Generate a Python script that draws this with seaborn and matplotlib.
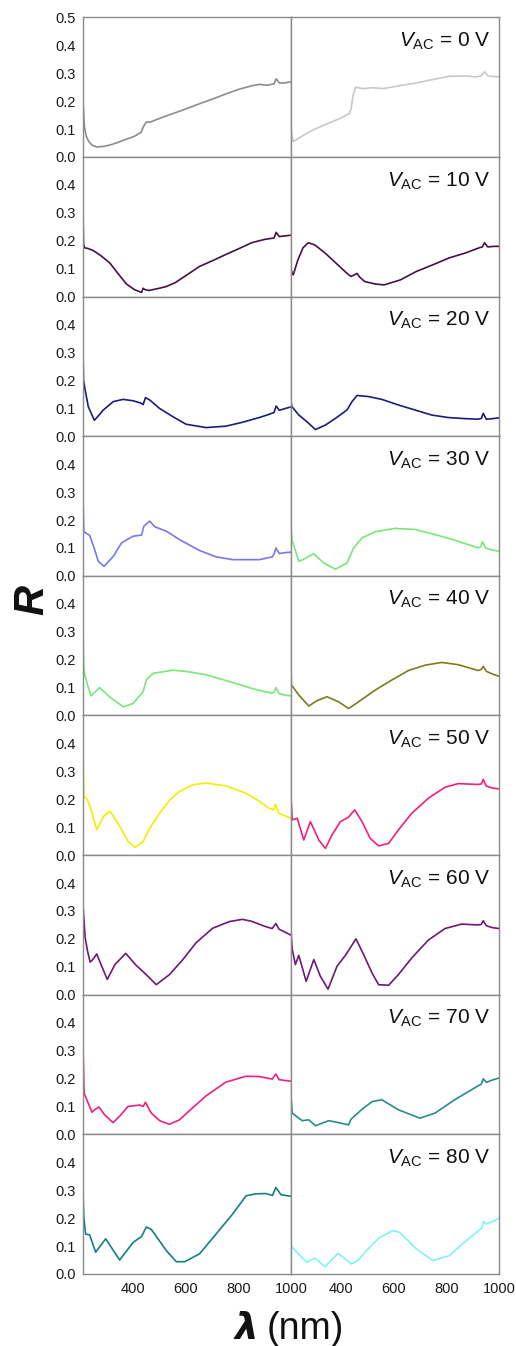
import matplotlib
matplotlib.use("Agg")
import matplotlib.pyplot as plt
import pandas as pd
import seaborn as sns

sns.set_theme(style="white")
plt.rcParams["font.family"] = ["Liberation Sans", "DejaVu Sans"]
plt.rcParams["mathtext.fontset"] = "custom"
plt.rcParams["mathtext.rm"] = "Liberation Sans"
plt.rcParams["mathtext.it"] = "Liberation Sans:italic"

voltages = [0, 10, 20, 30, 40, 50, 60, 70, 80]

# Reflectance spectra, two wavelength segments per voltage (left / right panel)
nm_0V_left = [210, 215, 222, 232, 245, 262, 290, 320, 350, 375, 405, 430, 440, 450, 465, 500, 550, 600, 650, 700, 750, 800, 850, 880, 910, 935, 943, 955, 975, 1000]
R_0V_left = [0.20, 0.11, 0.075, 0.055, 0.042, 0.036, 0.038, 0.045, 0.055, 0.064, 0.074, 0.088, 0.11, 0.125, 0.125, 0.138, 0.155, 0.172, 0.19, 0.207, 0.225, 0.242, 0.255, 0.26, 0.257, 0.262, 0.28, 0.265, 0.265, 0.27]
nm_0V_right = [210, 214, 218, 230, 260, 300, 350, 400, 430, 437, 445, 455, 480, 520, 560, 620, 685, 750, 811, 870, 912, 930, 944, 958, 980, 1000]
R_0V_right = [0.10, 0.07, 0.055, 0.062, 0.08, 0.10, 0.12, 0.14, 0.155, 0.17, 0.22, 0.25, 0.245, 0.248, 0.245, 0.255, 0.265, 0.278, 0.289, 0.29, 0.287, 0.29, 0.305, 0.29, 0.288, 0.287]

nm_10V_left = [210, 212, 216, 230, 249, 280, 312, 345, 375, 405, 432, 438, 445, 460, 500, 526, 560, 600, 652, 700, 750, 800, 850, 900, 935, 943, 955, 1000]
R_10V_left = [0.30, 0.19, 0.175, 0.172, 0.165, 0.145, 0.12, 0.08, 0.045, 0.025, 0.015, 0.03, 0.025, 0.022, 0.03, 0.036, 0.05, 0.075, 0.108, 0.128, 0.15, 0.171, 0.193, 0.205, 0.21, 0.23, 0.215, 0.22]
nm_10V_right = [210, 213, 218, 235, 255, 275, 300, 340, 380, 420, 437, 450, 460, 470, 489, 530, 563, 625, 685, 748, 811, 874, 924, 936, 944, 956, 980, 1000]
R_10V_right = [0.10, 0.085, 0.078, 0.13, 0.175, 0.193, 0.185, 0.155, 0.12, 0.085, 0.072, 0.078, 0.083, 0.07, 0.054, 0.045, 0.042, 0.06, 0.09, 0.114, 0.139, 0.157, 0.175, 0.178, 0.193, 0.178, 0.18, 0.18]

nm_20V_left = [210, 212, 218, 230, 253, 270, 287, 325, 362, 400, 432, 438, 447, 463, 500, 551, 601, 677, 752, 815, 879, 915, 935, 943, 955, 980, 1000]
R_20V_left = [0.30, 0.2, 0.166, 0.106, 0.057, 0.075, 0.094, 0.124, 0.132, 0.127, 0.118, 0.113, 0.138, 0.13, 0.1, 0.07, 0.043, 0.031, 0.036, 0.05, 0.067, 0.078, 0.085, 0.108, 0.093, 0.1, 0.105]
nm_20V_right = [210, 213, 239, 270, 302, 340, 378, 422, 441, 460, 504, 554, 617, 680, 743, 806, 870, 920, 932, 939, 951, 975, 1000]
R_20V_right = [0.12, 0.106, 0.076, 0.052, 0.024, 0.04, 0.064, 0.094, 0.124, 0.146, 0.142, 0.132, 0.112, 0.094, 0.076, 0.067, 0.063, 0.061, 0.064, 0.082, 0.061, 0.063, 0.066]

nm_30V_left = [210, 213, 218, 235, 250, 268, 290, 325, 356, 400, 432, 441, 463, 482, 526, 576, 652, 715, 778, 879, 928, 936, 942, 955, 975, 1000]
R_30V_left = [0.28, 0.16, 0.155, 0.145, 0.106, 0.052, 0.034, 0.07, 0.118, 0.142, 0.146, 0.178, 0.196, 0.176, 0.16, 0.13, 0.091, 0.068, 0.058, 0.058, 0.068, 0.08, 0.1, 0.08, 0.083, 0.085]
nm_30V_right = [210, 213, 239, 258, 296, 334, 378, 422, 447, 479, 529, 605, 680, 756, 831, 920, 930, 936, 948, 975, 1000]
R_30V_right = [0.17, 0.13, 0.052, 0.06, 0.079, 0.046, 0.024, 0.046, 0.1, 0.136, 0.158, 0.17, 0.166, 0.148, 0.128, 0.1, 0.105, 0.122, 0.1, 0.092, 0.088]

nm_40V_left = [210, 213, 218, 227, 240, 273, 313, 363, 400, 438, 451, 476, 551, 601, 677, 778, 840, 879, 928, 936, 942, 955, 980, 1000]
R_40V_left = [0.30, 0.17, 0.14, 0.11, 0.07, 0.1, 0.065, 0.031, 0.043, 0.085, 0.128, 0.151, 0.162, 0.158, 0.146, 0.118, 0.1, 0.09, 0.08, 0.085, 0.1, 0.078, 0.072, 0.07]
nm_40V_right = [210, 211, 239, 277, 308, 346, 390, 428, 466, 529, 592, 655, 718, 781, 844, 920, 932, 939, 951, 975, 1000]
R_40V_right = [0.16, 0.11, 0.073, 0.034, 0.053, 0.067, 0.049, 0.025, 0.049, 0.091, 0.127, 0.161, 0.18, 0.19, 0.182, 0.161, 0.165, 0.176, 0.158, 0.148, 0.14]

nm_50V_left = [210, 214, 227, 237, 262, 287, 312, 350, 382, 407, 438, 463, 501, 539, 576, 627, 677, 752, 828, 879, 915, 934, 940, 953, 1000]
R_50V_left = [0.34, 0.21, 0.198, 0.174, 0.09, 0.138, 0.158, 0.102, 0.048, 0.028, 0.048, 0.096, 0.15, 0.197, 0.228, 0.252, 0.258, 0.248, 0.222, 0.193, 0.168, 0.162, 0.182, 0.15, 0.132]
nm_50V_right = [210, 214, 233, 258, 283, 315, 340, 365, 397, 428, 451, 479, 510, 542, 580, 617, 668, 731, 794, 844, 920, 932, 939, 951, 975, 1000]
R_50V_right = [0.2, 0.126, 0.132, 0.054, 0.12, 0.054, 0.024, 0.072, 0.12, 0.136, 0.162, 0.12, 0.06, 0.033, 0.042, 0.09, 0.15, 0.204, 0.243, 0.256, 0.253, 0.255, 0.271, 0.247, 0.24, 0.237]

nm_60V_left = [210, 218, 227, 237, 247, 262, 281, 302, 331, 372, 412, 450, 488, 538, 589, 639, 702, 765, 815, 850, 900, 928, 942, 954, 1000]
R_60V_left = [0.32, 0.205, 0.157, 0.117, 0.126, 0.146, 0.102, 0.055, 0.108, 0.148, 0.105, 0.072, 0.036, 0.072, 0.126, 0.186, 0.238, 0.262, 0.27, 0.263, 0.245, 0.237, 0.255, 0.235, 0.213]
nm_60V_right = [210, 214, 226, 239, 267, 296, 321, 350, 384, 416, 456, 485, 517, 542, 580, 617, 668, 731, 794, 857, 920, 932, 939, 951, 975, 1000]
R_60V_right = [0.22, 0.163, 0.108, 0.141, 0.048, 0.126, 0.066, 0.02, 0.102, 0.141, 0.2, 0.144, 0.078, 0.036, 0.034, 0.072, 0.132, 0.196, 0.237, 0.253, 0.25, 0.252, 0.265, 0.247, 0.24, 0.237]

nm_70V_left = [210, 214, 227, 244, 254, 270, 292, 324, 350, 381, 425, 438, 447, 469, 501, 538, 576, 614, 677, 752, 828, 879, 928, 942, 954, 1000]
R_70V_left = [0.32, 0.148, 0.118, 0.079, 0.088, 0.098, 0.07, 0.042, 0.066, 0.1, 0.105, 0.1, 0.115, 0.076, 0.049, 0.036, 0.052, 0.085, 0.138, 0.187, 0.208, 0.207, 0.198, 0.216, 0.196, 0.19]
nm_70V_right = [210, 214, 252, 277, 302, 353, 390, 428, 437, 479, 517, 554, 617, 699, 756, 831, 920, 932, 939, 951, 975, 1000]
R_70V_right = [0.13, 0.076, 0.049, 0.052, 0.031, 0.049, 0.042, 0.034, 0.054, 0.09, 0.117, 0.124, 0.088, 0.058, 0.076, 0.124, 0.174, 0.18, 0.199, 0.186, 0.195, 0.202]

nm_80V_left = [210, 213, 220, 235, 258, 296, 349, 400, 432, 450, 469, 526, 564, 596, 652, 715, 778, 829, 865, 904, 929, 942, 961, 1000]
R_80V_left = [0.287, 0.203, 0.143, 0.14, 0.078, 0.126, 0.05, 0.113, 0.134, 0.168, 0.16, 0.084, 0.044, 0.044, 0.072, 0.143, 0.215, 0.28, 0.287, 0.288, 0.281, 0.31, 0.284, 0.278]
nm_80V_right = [210, 244, 269, 300, 319, 338, 388, 439, 464, 496, 546, 596, 622, 685, 748, 811, 874, 925, 934, 940, 950, 975, 1000]
R_80V_right = [0.1, 0.066, 0.042, 0.057, 0.042, 0.026, 0.074, 0.036, 0.048, 0.084, 0.131, 0.155, 0.149, 0.09, 0.048, 0.066, 0.119, 0.158, 0.165, 0.189, 0.179, 0.188, 0.2]

colors_left = ["#8c8c8c", "#4a1046", "#1c1c7c", "#7878ec", "#78e878",
               "#f0f000", "#701878", "#f02080", "#148080"]
colors_right = ["#c8c8c8", "#4a1046", "#1c1c7c", "#78e878", "#7c7c1c",
                "#f0207c", "#701878", "#288c88", "#80f4f4"]

left_series = [(nm_0V_left, R_0V_left), (nm_10V_left, R_10V_left), (nm_20V_left, R_20V_left),
               (nm_30V_left, R_30V_left), (nm_40V_left, R_40V_left), (nm_50V_left, R_50V_left),
               (nm_60V_left, R_60V_left), (nm_70V_left, R_70V_left), (nm_80V_left, R_80V_left)]
right_series = [(nm_0V_right, R_0V_right), (nm_10V_right, R_10V_right), (nm_20V_right, R_20V_right),
                (nm_30V_right, R_30V_right), (nm_40V_right, R_40V_right), (nm_50V_right, R_50V_right),
                (nm_60V_right, R_60V_right), (nm_70V_right, R_70V_right), (nm_80V_right, R_80V_right)]

frames = []
for v, (xl, yl), (xr, yr) in zip(voltages, left_series, right_series):
    frames.append(pd.DataFrame({"V": v, "side": "left", "nm": xl, "R": yl}))
    frames.append(pd.DataFrame({"V": v, "side": "right", "nm": xr, "R": yr}))
spectra = pd.concat(frames, ignore_index=True)

frame_color = "#8a8a8a"
fig, axes = plt.subplots(9, 2, figsize=(5.16, 13.46), dpi=100)
fig.subplots_adjust(left=0.1609, right=0.9676, top=0.9871, bottom=0.0535,
                    hspace=0, wspace=0)

for i, v in enumerate(voltages):
    for j, side in enumerate(["left", "right"]):
        ax = axes[i, j]
        sub = spectra[(spectra["V"] == v) & (spectra["side"] == side)]
        color = colors_left[i] if j == 0 else colors_right[i]
        sns.lineplot(data=sub, x="nm", y="R", ax=ax, color=color,
                     linewidth=1.2, estimator=None, sort=False)
        ax.set_xlim(210, 1000)
        ax.set_ylim(0, 0.5)
        ax.set_xlabel("")
        ax.set_ylabel("")
        for sp in ax.spines.values():
            sp.set_visible(True)
            sp.set_color(frame_color)
            sp.set_linewidth(1.0)
        ax.set_xticks([400, 600, 800, 1000])
        ax.set_xticklabels(["400", "600", "800", "1000"])
        ax.tick_params(axis="both", colors=frame_color, labelcolor="#1a1a1a",
                       labelsize=10.5, length=3, width=0.9, direction="out")
        ax.tick_params(axis="x", pad=3)
        ax.tick_params(axis="y", pad=2.5)
        if i < 8:
            ax.tick_params(axis="x", bottom=False, labelbottom=False)
        if j == 0:
            ticks = [0.0, 0.1, 0.2, 0.3, 0.4, 0.5] if i == 0 else [0.0, 0.1, 0.2, 0.3, 0.4]
            ax.set_yticks(ticks)
            ax.set_yticklabels([f"{t:.1f}" for t in ticks])
        else:
            ax.set_yticks([])
            ax.tick_params(axis="y", left=False, labelleft=False)
            ax.text(0.959, 0.79, r"$V_{\mathrm{AC}}$" + f" = {v} V",
                    transform=ax.transAxes, ha="right", va="baseline",
                    fontsize=15, color="#111111")

fig.text(0.062, 0.554, "R", rotation=90, ha="center", va="center",
         fontsize=30, fontweight="bold", fontstyle="italic", color="#111111")
fig.text(0.500, 0.0055, "λ", ha="right", va="baseline", fontsize=27,
         fontweight="bold", fontstyle="italic", family=["DejaVu Sans"], color="#111111")
fig.text(0.517, 0.0055, "(nm)", ha="left", va="baseline", fontsize=27,
         color="#111111")

fig.savefig("out.png", dpi=100)
